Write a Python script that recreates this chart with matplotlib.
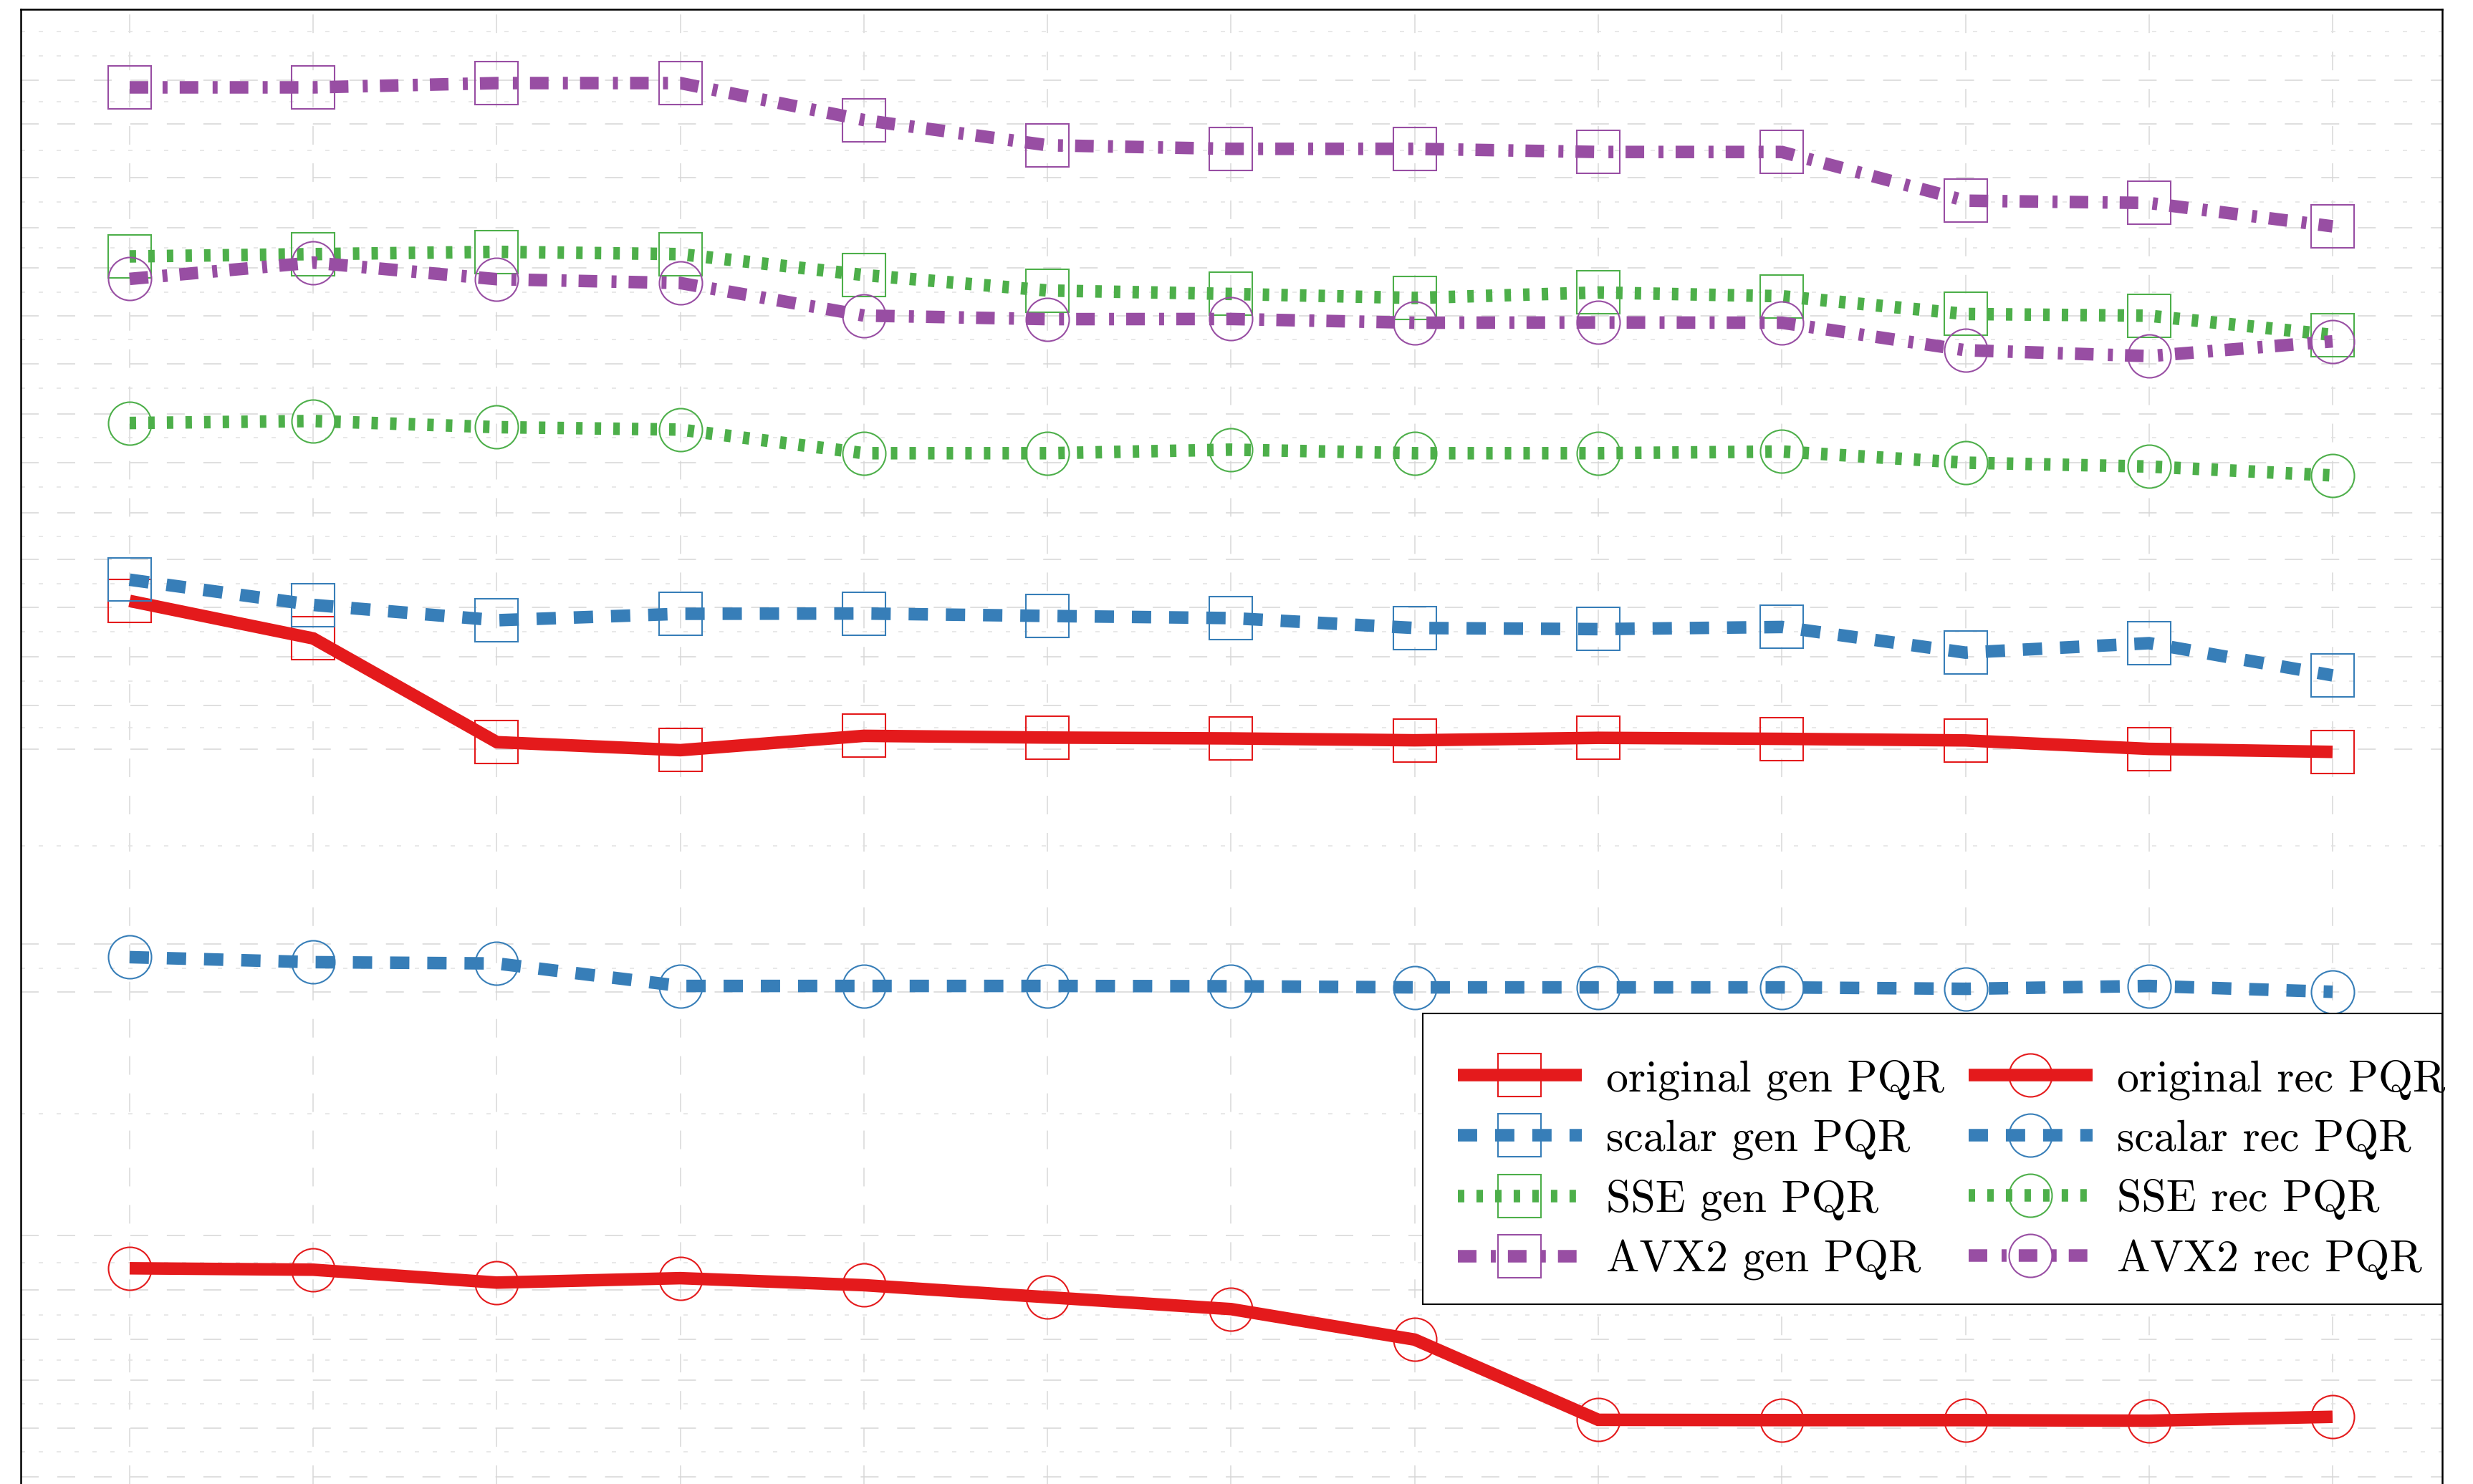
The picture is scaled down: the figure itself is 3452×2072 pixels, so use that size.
import matplotlib.pyplot as plt
from matplotlib.patches import Rectangle

# x positions (13 runs)
x = list(range(13))

# generation times
original_gen = [61.65, 59.03, 51.79, 51.23, 52.23, 52.11, 52.05, 51.92, 52.09, 52.02, 51.91, 51.32, 51.11]
scalar_gen = [63.13, 61.37, 60.30, 60.75, 60.77, 60.60, 60.45, 59.76, 59.68, 59.83, 58.04, 58.70, 56.45]
sse_gen = [85.70, 85.86, 86.02, 85.86, 84.40, 83.32, 83.08, 82.80, 83.18, 82.92, 81.68, 81.56, 80.22]
avx2_gen = [97.50, 97.50, 97.80, 97.80, 95.22, 93.46, 93.21, 93.21, 92.99, 92.99, 89.59, 89.43, 87.80]

# recognition times
original_rec = [15.06, 14.96, 14.06, 14.37, 13.88, 13.04, 12.21, 10.08, 4.48, 4.46, 4.46, 4.42, 4.69]
scalar_rec = [36.78, 36.43, 36.34, 34.77, 34.77, 34.77, 34.75, 34.67, 34.67, 34.67, 34.57, 34.77, 34.36]
sse_rec = [74.07, 74.21, 73.78, 73.61, 71.96, 71.96, 72.21, 71.96, 71.96, 72.08, 71.30, 71.03, 70.41]
avx2_rec = [84.13, 85.27, 84.11, 83.84, 81.57, 81.32, 81.33, 81.07, 81.09, 81.07, 79.15, 78.74, 79.77]

# grid positions
grid_major = [98.0, 94.95, 91.2, 87.7, 84.9, 81.55, 78.2, 74.7, 71.3, 67.8, 64.55, 61.2,
              57.75, 54.35, 51.3, 37.7, 34.35, 17.35, 13.55, 10.1, 7.25, 3.9, 0.5]
grid_minor = [101.4, 99.7, 96.5, 93.1, 89.5, 86.3, 83.2, 79.9, 76.5, 73.05, 69.6, 66.15,
              62.85, 59.5, 56.05, 52.8, 44.55, 36.0, 25.85, 15.45, 11.8, 8.65, 5.6, 2.25]

plt.rcParams['lines.scale_dashes'] = False
plt.rcParams['lines.solid_capstyle'] = 'butt'
plt.rcParams['lines.solid_joinstyle'] = 'miter'
plt.rcParams['lines.dash_joinstyle'] = 'miter'
plt.rcParams['axes.formatter.use_mathtext'] = True

red = '#e41a1c'
blue = '#377eb8'
green = '#4daf4a'
purple = '#984ea3'

solid = '-'
dashed = (0, (19.4, 18.0))
dotted = (0, (6.5, 12.2))
dashdot = (0, (18.7, 14.4, 5.0, 12.2))

lw = 12.6
ms = 43.2
mew = 1.5

W, H = 3452, 2072
fig = plt.figure(figsize=(W / 100, H / 100), dpi=100)
ax = fig.add_axes([29 / W, 0, (3409 - 29) / W, (H - 13) / H])


def draw(values, color, ls, marker, label):
    ax.plot(x, values, color=color, lw=lw, ls=ls, marker=marker, ms=ms,
            mfc='none', mec=color, mew=mew, label=label)


draw(original_gen, red, solid, 's', 'original gen PQR')
draw(scalar_gen, blue, dashed, 's', 'scalar gen PQR')
draw(sse_gen, green, dotted, 's', 'SSE gen PQR')
draw(avx2_gen, purple, dashdot, 's', 'AVX2 gen PQR')
draw(original_rec, red, solid, 'o', 'original rec PQR')
draw(scalar_rec, blue, dashed, 'o', 'scalar rec PQR')
draw(sse_rec, green, dotted, 'o', 'SSE rec PQR')
draw(avx2_rec, purple, dashdot, 'o', 'AVX2 rec PQR')

ax.set_xlim(-0.593, 12.597)
ax.set_ylim(0, 102.95)
ax.set_xticks(x)
ax.set_yticks(grid_major)
ax.set_yticks(grid_minor, minor=True)
ax.tick_params(which='both', length=0, labelleft=False, labelbottom=False)

ax.xaxis.grid(True, color='#d9d9d9', lw=1.1, ls=(0, (18.7, 18.7)))
ax.yaxis.grid(True, which='major', color='#d6d6d6', lw=1.1, ls=(0, (18.0, 18.7)))
ax.yaxis.grid(True, which='minor', color='#e2e2e2', lw=1.1, ls=(0, (4.3, 13.7)))
ax.set_axisbelow(True)

for s in ['left', 'top', 'right']:
    ax.spines[s].set_linewidth(1.8)
ax.spines['bottom'].set_visible(False)

# legend box drawn separately: the long labels run right up to the border
frame = Rectangle((1986 / W, 1 - 1821 / H), (3409 - 1986) / W, (1821 - 1415) / H,
                  transform=fig.transFigure, facecolor='white', edgecolor='black',
                  lw=1.5, zorder=4.5, clip_on=False)
ax.add_patch(frame)

# tiny blank title gives the extra room above the first row
leg = ax.legend(ncol=2, loc='upper left', bbox_to_anchor=(1999 / W, 1 - 1415 / H),
                bbox_transform=fig.transFigure, borderaxespad=0,
                prop={'family': 'cmr10', 'size': 44.5}, handlelength=2.8,
                handletextpad=0.55, columnspacing=0.55, labelspacing=0.44,
                borderpad=0.58, frameon=False, title=' ', title_fontsize=1)

fig.savefig('out.png', dpi=100)
